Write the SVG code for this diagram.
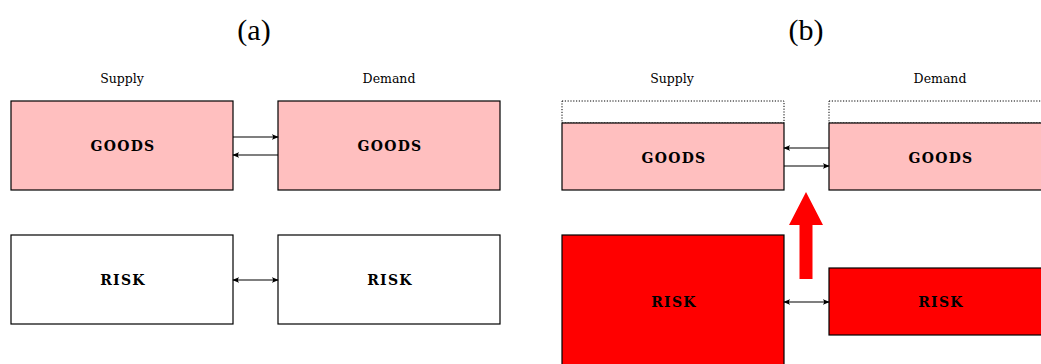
<svg xmlns="http://www.w3.org/2000/svg" width="1041" height="364" viewBox="0 0 1041 364">
<style>
.box{stroke:#000;stroke-width:1.2}
.pink{fill:#ffbfbf}
.red{fill:#ff0000}
.white{fill:#fff}
.dot{fill:none;stroke:#000;stroke-width:1;stroke-dasharray:1.2 1.6}
.lbl{font-family:"DejaVu Serif",serif;font-weight:bold;font-size:14px;text-anchor:middle;letter-spacing:1.3px}
.cap{font-family:"DejaVu Serif",serif;font-size:12.5px;text-anchor:middle}
.title{font-family:"Liberation Serif",serif;font-size:30px;text-anchor:middle}
.con{stroke:#000;stroke-width:1.1;fill:none}
</style>
<defs>
<marker id="ah" viewBox="0 0 10 10" refX="9" refY="5" markerWidth="7" markerHeight="7" markerUnits="userSpaceOnUse" orient="auto-start-reverse">
<path d="M0,1 Q4,5 0,9 L10,5 Z" fill="#000"/>
</marker>
</defs>
<rect width="1041" height="364" fill="#fff"/>
<text class="title" x="254" y="40">(a)</text>
<text class="title" x="806" y="40">(b)</text>
<text class="cap" x="122" y="83">Supply</text>
<text class="cap" x="389" y="83">Demand</text>
<text class="cap" x="672" y="83">Supply</text>
<text class="cap" x="940" y="83">Demand</text>
<g id="a-supply-goods"><rect class="box pink" x="11" y="101" width="222" height="89"/><text class="lbl" x="123" y="151">GOODS</text></g>
<g id="a-demand-goods"><rect class="box pink" x="278" y="101" width="222" height="89"/><text class="lbl" x="390" y="151">GOODS</text></g>
<g id="a-supply-risk"><rect class="box white" x="11" y="235" width="222" height="89"/><text class="lbl" x="123" y="285">RISK</text></g>
<g id="a-demand-risk"><rect class="box white" x="278" y="235" width="222" height="89"/><text class="lbl" x="390" y="285">RISK</text></g>
<g id="b-supply-goods"><rect class="dot" x="562" y="101" width="222" height="22"/><rect class="box pink" x="562" y="123" width="222" height="67"/><text class="lbl" x="674" y="163">GOODS</text></g>
<g id="b-demand-goods"><rect class="dot" x="829" y="101" width="222" height="22"/><rect class="box pink" x="829" y="123" width="222" height="67"/><text class="lbl" x="941" y="163">GOODS</text></g>
<g id="b-supply-risk"><rect class="box red" x="562" y="235" width="222" height="140"/><text class="lbl" x="674" y="307">RISK</text></g>
<g id="b-demand-risk"><rect class="box red" x="829" y="268" width="222" height="67"/><text class="lbl" x="941" y="307">RISK</text></g>
<g id="connectors">
<line class="con" x1="233" y1="137" x2="278" y2="137" marker-end="url(#ah)"/>
<line class="con" x1="278" y1="155" x2="233" y2="155" marker-end="url(#ah)"/>
<line class="con" x1="233" y1="280" x2="278" y2="280" marker-start="url(#ah)" marker-end="url(#ah)"/>
<line class="con" x1="829" y1="148" x2="784" y2="148" marker-end="url(#ah)"/>
<line class="con" x1="784" y1="166" x2="829" y2="166" marker-end="url(#ah)"/>
<line class="con" x1="784" y1="302" x2="829" y2="302" marker-start="url(#ah)" marker-end="url(#ah)"/>
<path d="M799.5,279 L799.5,225 L789,225 L806,192 L823,225 L812.5,225 L812.5,279 Z" fill="#ff0000"/>
</g>
</svg>
